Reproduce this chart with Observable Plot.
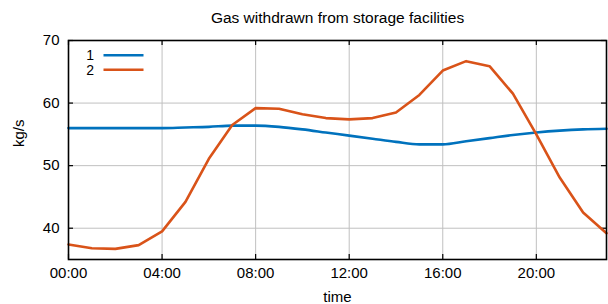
<!DOCTYPE html>
<html>
<head>
<meta charset="utf-8">
<script src="https://cdn.jsdelivr.net/npm/d3@7"></script>
<script src="https://cdn.jsdelivr.net/npm/@observablehq/plot@0.6"></script>
<style>
  html, body { margin: 0; padding: 0; background: #fff; }
  svg { font-family: "Liberation Sans", Arial, Helvetica, sans-serif; }
</style>
</head>
<body>
<div id="chart"></div>
<script>
const hours = d3.range(0, 24);
const series1 = [56.0, 56.0, 56.0, 56.0, 56.0, 56.1, 56.2, 56.4, 56.4, 56.2, 55.8, 55.3,
                 54.8, 54.3, 53.8, 53.4, 53.4, 53.9, 54.4, 54.9, 55.3, 55.6, 55.8, 55.9];
const series2 = [37.4, 36.8, 36.7, 37.3, 39.5, 44.2, 51.1, 56.5, 59.2, 59.1, 58.2, 57.6,
                 57.4, 57.6, 58.5, 61.3, 65.2, 66.7, 65.9, 61.5, 55.0, 48.1, 42.5, 39.2];
const seriesNames = ["1", "2"];
const colors = ["#0072BD", "#D95319"];
const xTicks = [0, 4, 8, 12, 16, 20];
const xTickLabels = ["00:00", "04:00", "08:00", "12:00", "16:00", "20:00"];
const yTicks = [40, 50, 60, 70];
const title = "Gas withdrawn from storage facilities";
const xLabel = "time";
const yLabel = "kg/s";

const d1 = hours.map((h, i) => ({h, v: series1[i]}));
const d2 = hours.map((h, i) => ({h, v: series2[i]}));

const W = 608, H = 304, mL = 68, mR = 2, mT = 40, mB = 45;
const frameH = H - mT - mB, frameW = W - mL - mR;
const tick = 5;

// legend marks: text + line sample for each series
const legendMarks = seriesNames.flatMap((name, i) => {
  const yOff = 15.5 + i * 14.5;
  return [
    Plot.text([name], {frameAnchor: "top-left", dx: 25.5, dy: yOff, fontSize: 14,
      fill: "black", textAnchor: "end", lineAnchor: "middle"}),
    () => {
      const line = d3.create("svg:line")
        .attr("x1", mL + 35.5).attr("x2", mL + 75.5)
        .attr("y1", mT + yOff - 0.3).attr("y2", mT + yOff - 0.3)
        .attr("stroke", colors[i]).attr("stroke-width", 2.6);
      return line.node();
    }
  ];
});

const chart = Plot.plot({
  width: W, height: H,
  marginLeft: mL, marginRight: mR, marginTop: mT, marginBottom: mB,
  style: {fontFamily: "'Liberation Sans', Arial, Helvetica, sans-serif", background: "#fff"},
  x: {domain: [0, 23]},
  y: {domain: [35, 70]},
  marks: [
    Plot.gridX(xTicks, {stroke: "#c0c0c0", strokeOpacity: 1, strokeWidth: 1}),
    Plot.gridY(yTicks, {stroke: "#c0c0c0", strokeOpacity: 1, strokeWidth: 1}),
    // inward ticks
    Plot.tickX(xTicks, {x: d => d, insetTop: frameH - tick, stroke: "black", strokeWidth: 1.2}),
    Plot.tickX(xTicks, {x: d => d, insetBottom: frameH - tick, stroke: "black", strokeWidth: 1.2}),
    Plot.tickY(yTicks, {y: d => d, insetLeft: frameW - tick, stroke: "black", strokeWidth: 1.2}),
    Plot.tickY(yTicks, {y: d => d, insetRight: frameW - tick, stroke: "black", strokeWidth: 1.2}),
    Plot.axisX(xTicks, {tickSize: 0, tickPadding: 8, fontSize: 15, fill: "black",
      tickFormat: d => xTickLabels[xTicks.indexOf(d)], label: null}),
    Plot.axisY(yTicks, {tickSize: 0, tickPadding: 9, fontSize: 15, fill: "black", label: null}),
    Plot.line(d1, {x: "h", y: "v", stroke: colors[0], strokeWidth: 2.6, curve: "monotone-x"}),
    Plot.line(d2, {x: "h", y: "v", stroke: colors[1], strokeWidth: 2.6}),
    Plot.frame({stroke: "black", strokeWidth: 1.6}),
    ...legendMarks,
    // titles
    Plot.text([title], {frameAnchor: "top", dy: -22, fontSize: 15.5, fill: "black", lineAnchor: "middle"}),
    Plot.text([xLabel], {frameAnchor: "bottom", dy: 38, fontSize: 15, fill: "black", lineAnchor: "middle"}),
    Plot.text([yLabel], {frameAnchor: "left", dx: -49, dy: -3, rotate: -90, fontSize: 15, fill: "black", lineAnchor: "middle"})
  ]
});
document.getElementById("chart").appendChild(chart);
</script>
</body>
</html>
